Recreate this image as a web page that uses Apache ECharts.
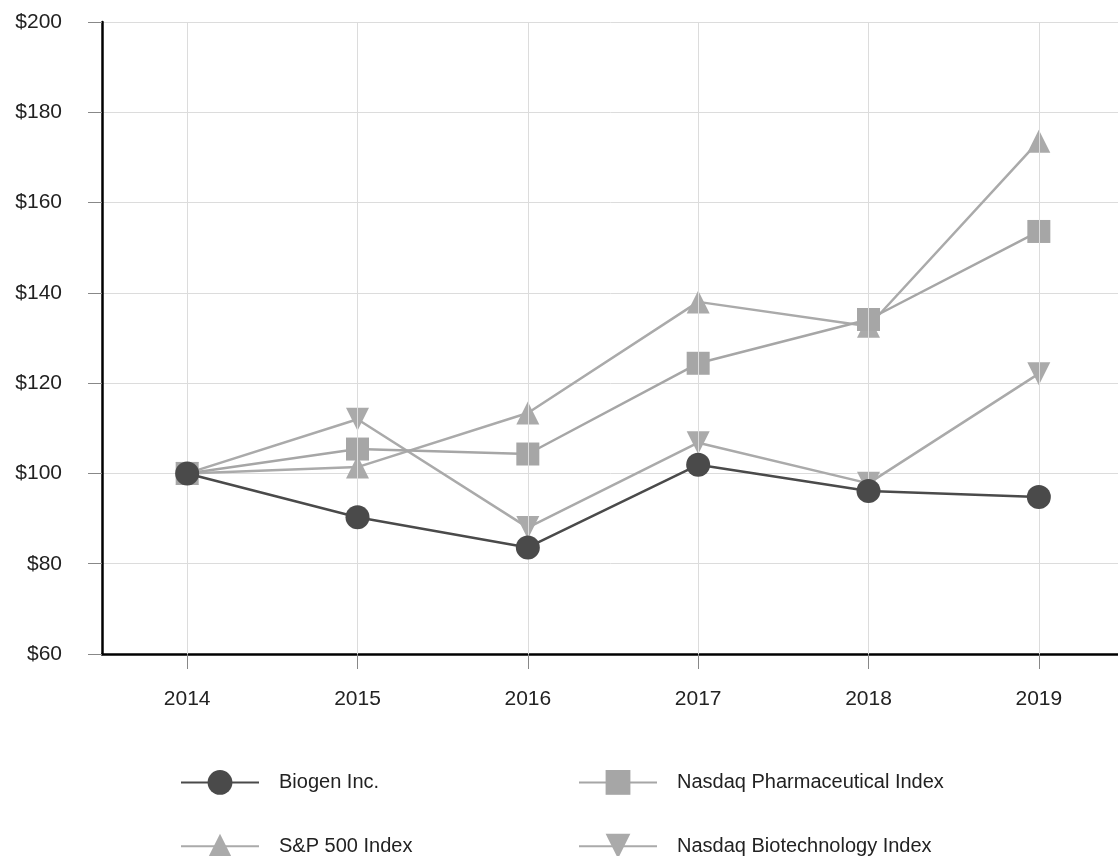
<!DOCTYPE html>
<html>
<head>
<meta charset="utf-8">
<script src="https://cdn.jsdelivr.net/npm/echarts@6/dist/echarts.min.js"></script>
<style>html,body{margin:0;padding:0;background:#fff}#c{width:1118px;height:856px}</style>
</head>
<body>
<div id="c"></div>
<script>
const years = ['2014','2015','2016','2017','2018','2019'];
const biogen = [100, 90.3, 83.6, 101.9, 96.1, 94.8];
const pharma = [100, 105.4, 104.3, 124.4, 134.1, 153.6];
const sp500 = [100, 101.4, 113.4, 138.0, 132.6, 173.6];
const biotech = [100, 112.0, 88.0, 106.8, 97.8, 122.1];
const yTicks = { min: 60, max: 200, step: 20 };

const FONT = '"Liberation Sans", Arial, sans-serif';
const DARK = '#4a4a4a';
const LIGHT = '#aaaaaa';

const chart = echarts.init(document.getElementById('c'), null, { renderer: 'canvas' });

function lineSeries(name, data, color, symbol, size, z, rotate) {
  return {
    name, type: 'line', data, z,
    symbol, symbolSize: size, symbolRotate: rotate || 0,
    showSymbol: true,
    lineStyle: { color, width: 2.5 },
    itemStyle: { color },
    emphasis: { disabled: true }
  };
}

const legendCommon = {
  orient: 'vertical',
  itemWidth: 78,
  itemHeight: 31,
  itemGap: 39,
  height: 200,
  padding: 0,
  textStyle: { fontFamily: FONT, fontSize: 20, color: '#222', padding: [0, 0, 0, 15] },
  selectedMode: false
};

chart.setOption({
  animation: false,
  backgroundColor: '#fff',
  grid: { left: 102, top: 22, width: 1022, height: 632, containLabel: false, outerBoundsMode: 'none' },
  xAxis: {
    type: 'category',
    data: years,
    boundaryGap: true,
    axisLine: { show: true, lineStyle: { color: '#000', width: 2.5 } },
    axisTick: { show: true, alignWithLabel: true, length: 15, lineStyle: { color: '#888', width: 1 } },
    axisLabel: { fontFamily: FONT, fontSize: 21, color: '#222', margin: 35 },
    splitLine: { show: false }
  },
  yAxis: {
    type: 'value',
    min: yTicks.min, max: yTicks.max, interval: yTicks.step,
    axisLine: { show: true, onZero: false, lineStyle: { color: '#000', width: 2.5 } },
    axisTick: { show: true, length: 14, lineStyle: { color: '#888', width: 1 } },
    axisLabel: { fontFamily: FONT, fontSize: 21, color: '#222', margin: 40, formatter: v => '$' + v },
    splitLine: { show: true, lineStyle: { color: '#dcdcdc', width: 1 } }
  },
  legend: [
    Object.assign({}, legendCommon, { left: 180, top: 770, data: ['Biogen Inc.', 'S&P 500 Index'] }),
    Object.assign({}, legendCommon, { left: 578, top: 770, data: ['Nasdaq Pharmaceutical Index', 'Nasdaq Biotechnology Index'] })
  ],
  series: [
    {
      name: '_grid', type: 'line', data: [], z: 0, silent: true,
      markLine: {
        silent: true, symbol: ['none', 'none'], label: { show: false },
        lineStyle: { color: '#dcdcdc', width: 1, type: 'solid' },
        emphasis: { disabled: true },
        data: years.map(y => ({ xAxis: y }))
      }
    },
    lineSeries('S&P 500 Index', sp500, LIGHT, 'triangle', 23, 2),
    lineSeries('Nasdaq Biotechnology Index', biotech, LIGHT, 'triangle', 23, 3, 180),
    lineSeries('Nasdaq Pharmaceutical Index', pharma, '#a6a6a6', 'rect', 23, 4),
    lineSeries('Biogen Inc.', biogen, DARK, 'circle', 24, 5)
  ]
});
</script>
</body>
</html>
